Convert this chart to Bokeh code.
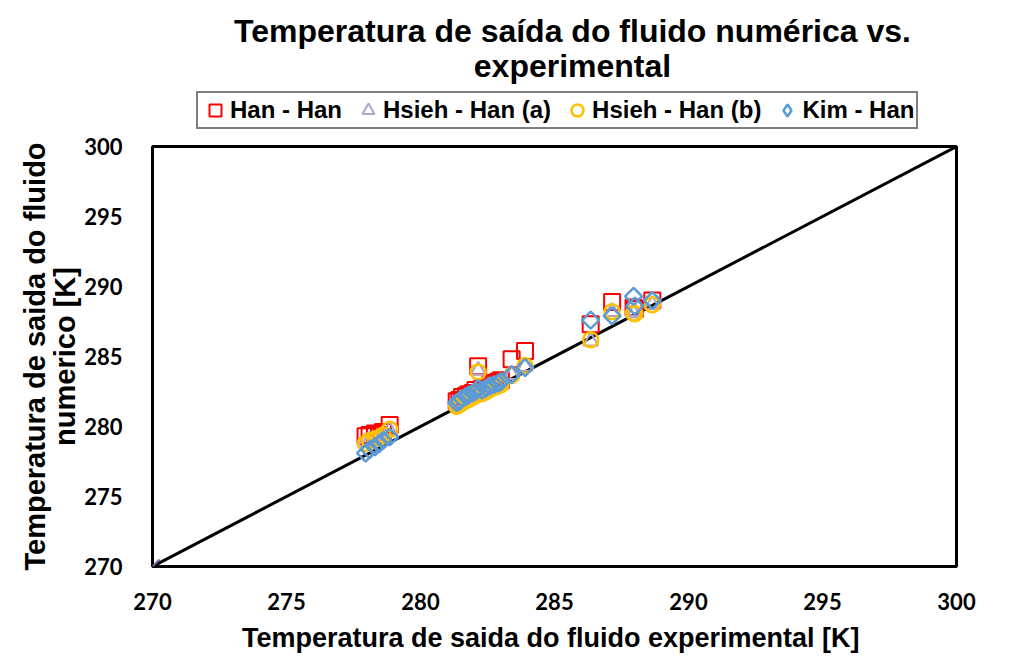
import numpy as np
from bokeh.plotting import figure
from bokeh.layouts import column
from bokeh.models import Legend, LegendItem, FixedTicker, Range1d, Label
from bokeh.embed import file_html
from bokeh.resources import INLINE

# ---- data ----
exp_x = [277.95, 278.1, 278.3, 278.45, 278.6, 278.85,
         281.35, 281.45, 281.55, 281.7, 281.8, 281.95, 282.05, 282.15, 282.3, 282.45,
         282.6, 282.75, 282.9, 283.0, 283.4, 283.9,
         286.35, 287.15, 287.95, 288.0, 288.65]

han_han = [279.3, 279.4, 279.5, 279.4, 279.6, 280.1,
           281.8, 281.9, 282.1, 282.2, 282.3, 282.4, 282.6, 284.3, 282.7, 282.8,
           283.0, 283.1, 283.2, 283.3, 284.8, 285.4,
           287.3, 288.9, 288.5, 288.4, 289.0]

hsieh_han_a = [278.9, 279.0, 279.1, 279.2, 279.4, 279.7,
               281.5, 281.6, 281.75, 281.9, 282.0, 282.15, 282.25, 284.0, 282.4, 282.55,
               282.7, 282.85, 282.95, 283.05, 283.7, 284.3,
               286.1, 288.2, 288.1, 288.2, 288.7]

hsieh_han_b = [278.8, 279.0, 279.1, 279.2, 279.4, 279.8,
               281.45, 281.55, 281.7, 281.85, 281.95, 282.1, 282.2, 283.9, 282.35, 282.5,
               282.65, 282.8, 282.9, 283.0, 283.65, 284.35,
               286.2, 288.2, 288.1, 288.05, 288.7]

kim_han = [278.1, 278.35, 278.55, 278.75, 279.0, 279.25,
           281.7, 281.8, 282.0, 282.15, 282.25, 282.4, 282.5, 282.7, 282.6, 282.75,
           282.9, 283.0, 283.1, 283.2, 283.7, 284.2,
           287.6, 287.9, 289.3, 288.6, 289.0]

line_x = [270, 300]
line_y = [270, 300]
ticks = [270, 275, 280, 285, 290, 295, 300]

series_names = ["Han - Han", "Hsieh - Han (a)", "Hsieh - Han (b)", "Kim - Han"]
title_lines = ["Temperatura de saída do fluido numérica vs.", "experimental"]

# marker styles per series
styles = [
    dict(marker="square", size=16, line_color="#FF0000", line_width=2),
    dict(marker="triangle", size=15, line_color="#B0A3D2", line_width=2),
    dict(marker="circle", size=15, line_color="#FFC000", line_width=2.5),
    dict(marker="square", angle=np.pi / 4, size=12, line_color="#5B9BD5", line_width=2.5),
]
legend_styles = [
    dict(marker="square", line_color="#FF0000", line_width=2),
    dict(marker="triangle", line_color="#B0A3D2", line_width=2),
    dict(marker="circle", line_color="#FFC000", line_width=2.5),
    dict(marker="diamond", line_color="#5B9BD5", line_width=2.5),
]

FL, FW, FH = 152, 804, 420
HEAD_H = 132

# ---- header figure: title + legend (frame aligned with the main frame) ----
h = figure(frame_width=FW, height=HEAD_H, output_backend="svg", toolbar_location=None,
           x_range=Range1d(FL, FL + FW), y_range=Range1d(HEAD_H, 0),
           x_axis_location=None, y_axis_location=None,
           min_border_left=FL, min_border_right=45, min_border_top=0, min_border_bottom=0)
h.grid.visible = False
h.outline_line_color = None
h.border_fill_color = "white"
h.background_fill_color = "white"

for txt, yy in zip(title_lines, [30, 65]):
    h.add_layout(Label(x=572, y=yy, text=txt,
                       text_font="Liberation Sans", text_font_style="bold",
                       text_font_size="32px", text_color="black",
                       text_align="center", text_baseline="middle"))

# legend proxies (no visible points)
proxies = [h.scatter([np.nan], [np.nan], fill_color=None, **st) for st in legend_styles]
legend = Legend(items=[LegendItem(label=n, renderers=[r]) for n, r in zip(series_names, proxies)],
                orientation="horizontal", location=(44, 3),
                label_text_font="Liberation Sans", label_text_font_style="bold",
                label_text_font_size="24px", label_text_color="black",
                border_line_color="black", border_line_width=2,
                glyph_width=30, glyph_height=30, label_standoff=-6, spacing=11,
                padding=2, margin=0)
h.add_layout(legend)

# ---- main figure ----
p = figure(frame_width=FW, frame_height=FH, output_backend="svg", toolbar_location=None,
           x_range=Range1d(270, 300), y_range=Range1d(270, 300),
           min_border_left=FL, min_border_right=45, min_border_top=14, min_border_bottom=80)

p.grid.visible = False
p.outline_line_color = "black"
p.outline_line_width = 3
p.background_fill_color = "white"
p.border_fill_color = "white"

for ax in (p.xaxis[0], p.yaxis[0]):
    ax.ticker = FixedTicker(ticks=ticks)
    ax.axis_line_color = None
    ax.major_tick_line_color = None
    ax.minor_tick_line_color = None
    ax.major_label_text_font = "Lato"
    ax.major_label_text_font_style = "bold"
    ax.major_label_text_font_size = "22px"
    ax.major_label_text_color = "black"
    ax.axis_label_text_font = "Liberation Sans"
    ax.axis_label_text_font_style = "bold"
    ax.axis_label_text_color = "black"

p.xaxis.major_label_standoff = 20
p.yaxis.major_label_standoff = 24
p.xaxis.axis_label = "Temperatura de saida  do fluido experimental [K]"
p.xaxis.axis_label_text_font_size = "27px"
p.xaxis.axis_label_standoff = 10
p.yaxis.axis_label = "Temperatura de saida do fluido\nnumerico [K]"
p.yaxis.axis_label_text_font_size = "29px"
p.yaxis.axis_label_text_line_height = 0.95
p.yaxis.axis_label_standoff = 0

p.line(line_x, line_y, line_color="black", line_width=3)
p.scatter([line_x[0]], [line_y[0]], marker="x", size=20, line_color="#7F64A8", line_width=2)

for ys, st in zip([han_han, hsieh_han_a, hsieh_han_b, kim_han], styles):
    p.scatter(exp_x, ys, fill_color=None, **st)

layout = column(h, p, spacing=0)
open("out.html", "w").write(file_html(layout, INLINE))
